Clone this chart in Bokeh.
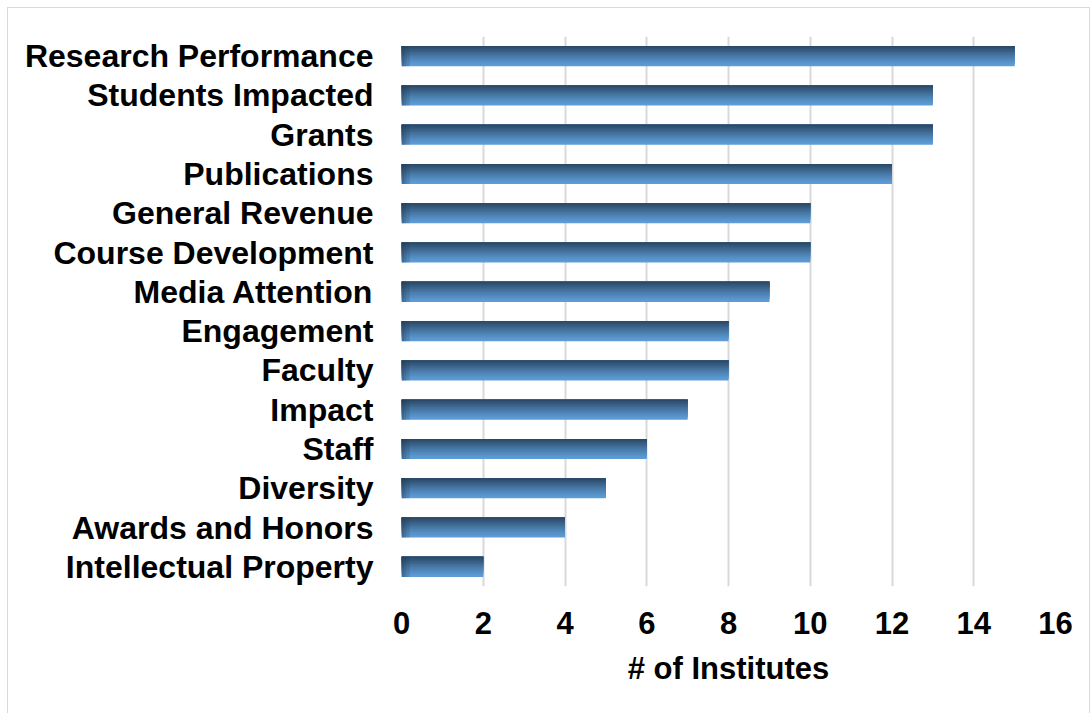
from bokeh.plotting import figure
from bokeh.models import FactorRange, Range1d, FixedTicker, ColumnDataSource
from bokeh.transform import dodge
from bokeh.embed import file_html
from bokeh.resources import INLINE

categories = ["Research Performance", "Students Impacted", "Grants", "Publications",
              "General Revenue", "Course Development", "Media Attention", "Engagement",
              "Faculty", "Impact", "Staff", "Diversity", "Awards and Honors",
              "Intellectual Property"]
values = [15, 13, 13, 12, 10, 10, 9, 8, 8, 7, 6, 5, 4, 2]
x_ticks = [0, 2, 4, 6, 8, 10, 12, 14, 16]

FONT = "Liberation Sans"

src = ColumnDataSource(data=dict(cat=categories, val=values))

p = figure(y_range=FactorRange(factors=list(reversed(categories))),
           x_range=Range1d(0, 16),
           frame_width=654, frame_height=550,
           min_border_left=393, min_border_top=28, min_border_right=34, min_border_bottom=128,
           output_backend="svg", toolbar_location=None)
p.styles = {"border": "1px solid #d9d9d9", "margin-left": "7px", "margin-top": "7px"}

# gradient bars: dark at top, light at bottom, built as nested layers anchored at the top
def lerp(c1, c2, t):
    a = [int(c1[i:i+2], 16) for i in (1, 3, 5)]
    b = [int(c2[i:i+2], 16) for i in (1, 3, 5)]
    return "#%02x%02x%02x" % tuple(round(a[k] + (b[k] - a[k]) * t) for k in range(3))

light, dark = "#5d9cd6", "#2c4a68"
nb = 14
bar_h = 0.51
for i in range(nb):
    h = bar_h * (nb - i) / nb
    off = bar_h / 2 - h / 2
    t = i / (nb - 1)
    col = lerp(light, dark, t ** 1.2)
    p.hbar(y=dodge("cat", off, range=p.y_range), left=0, right="val",
           height=h, source=src, fill_color=col, line_color=None)

# subtle darkening at the left end of each bar
for w in (0.06, 0.12, 0.2):
    p.hbar(y="cat", left=0, right=w, height=bar_h, source=src,
           fill_color="#1f3550", fill_alpha=0.18, line_color=None)

p.xaxis.ticker = FixedTicker(ticks=x_ticks)
p.xgrid.ticker = FixedTicker(ticks=x_ticks)
p.xgrid.grid_line_color = "#d9d9d9"
p.xgrid.grid_line_width = 2
p.ygrid.grid_line_color = None
p.outline_line_color = None

for ax in (p.xaxis, p.yaxis):
    ax.axis_line_color = None
    ax.major_tick_line_color = None
    ax.minor_tick_line_color = None
    ax.major_tick_out = 0
    ax.major_tick_in = 0
    ax.major_label_text_font = FONT
    ax.major_label_text_font_style = "bold"
    ax.major_label_text_color = "black"

p.yaxis.major_label_text_font_size = "32px"
p.yaxis.major_label_standoff = 28
p.xaxis.major_label_text_font_size = "31px"
p.xaxis.major_label_standoff = 25
p.xaxis.axis_label = "# of Institutes"
p.xaxis.axis_label_text_font = FONT
p.xaxis.axis_label_text_font_style = "bold"
p.xaxis.axis_label_text_font_size = "31px"
p.xaxis.axis_label_text_color = "black"
p.xaxis.axis_label_standoff = 14

open("out.html", "w").write(file_html(p, INLINE))
